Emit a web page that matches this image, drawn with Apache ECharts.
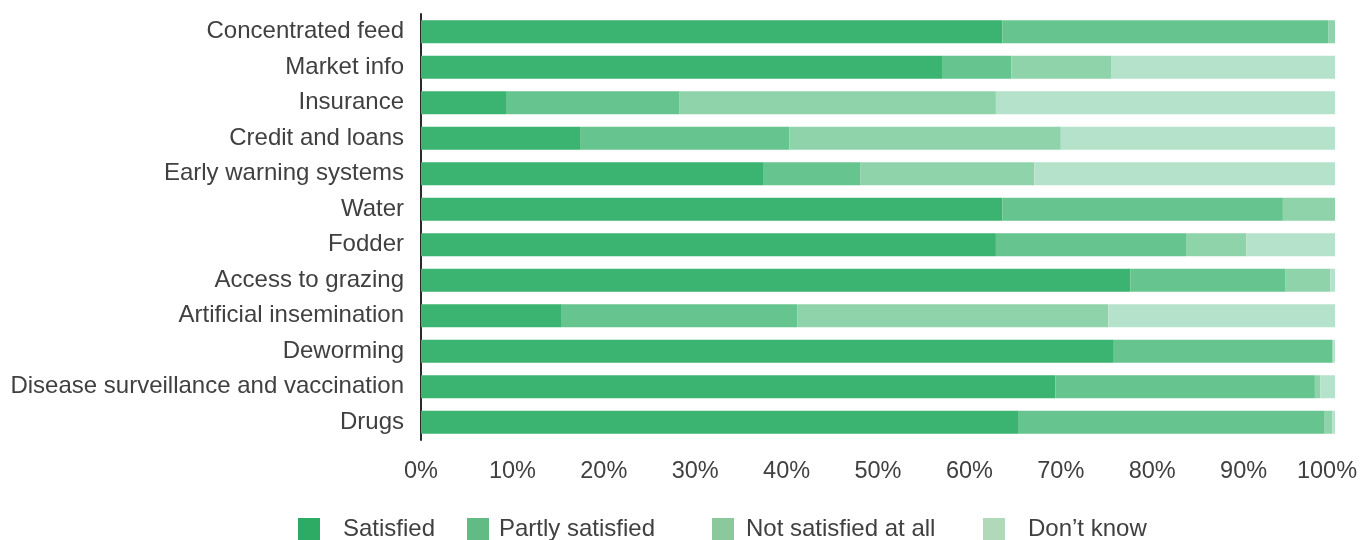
<!DOCTYPE html>
<html>
<head>
<meta charset="utf-8">
<script src="https://cdn.jsdelivr.net/npm/echarts@6/dist/echarts.min.js"></script>
<style>
html,body{margin:0;padding:0;background:#fff;}
#chart{width:1362px;height:540px;}
</style>
</head>
<body>
<div id="chart"></div>
<script>
var categories = ["Concentrated feed","Market info","Insurance","Credit and loans","Early warning systems","Water","Fodder","Access to grazing","Artificial insemination","Deworming","Disease surveillance and vaccination","Drugs"];
var seriesNames = ["Satisfied","Partly satisfied","Not satisfied at all","Don\u2019t know"];
var satisfied    = [63.6, 57.0,  9.3, 17.4, 37.5, 63.6, 62.9, 77.6, 15.4, 75.8, 69.4, 65.4];
var partly       = [35.7,  7.6, 19.0, 22.9, 10.6, 30.7, 20.8, 17.0, 25.8, 23.9, 28.4, 33.4];
var notSatisfied = [ 0.7, 10.9, 34.6, 29.7, 19.0,  5.7,  6.6,  4.9, 34.0,  0.1,  0.6,  0.9];
var dontKnow     = [ 0.0, 24.5, 37.1, 30.0, 32.9,  0.0,  9.7,  0.5, 24.8,  0.2,  1.6,  0.3];
var xTicks = [0,10,20,30,40,50,60,70,80,90,100];

var barColors = ["#3bb371","#66c48f","#8fd3ab","#b5e2ca"];
var legendColors = ["#2dab65","#62ba85","#8bc99d","#b0d9b9"];
var values = [satisfied, partly, notSatisfied, dontKnow];

var font = "'Liberation Sans', Arial, Helvetica, sans-serif";
var chart = echarts.init(document.getElementById('chart'), null, {renderer:'canvas'});

var legendLefts = [298, 467, 712, 983];
var legendTextPad = [18, 5, 7, 18];

var legends = seriesNames.map(function(n, i){
  return {
    left: legendLefts[i],
    top: 517,
    padding: 0,
    itemWidth: 22,
    itemHeight: 22,
    icon: 'rect',
    selectedMode: false,
    data: [{name: n, itemStyle: {color: legendColors[i]}}],
    textStyle: {fontFamily: font, fontSize: 24, color: '#404040', padding: [0,0,0,legendTextPad[i]]}
  };
});

chart.setOption({
  backgroundColor: '#ffffff',
  animation: false,
  textStyle: {fontFamily: font},
  legend: legends,
  grid: {left: 421, right: 27, top: 14, bottom: 100, containLabel: false, outerBoundsMode: 'none'},
  xAxis: {
    type: 'value',
    min: xTicks[0],
    max: xTicks[xTicks.length-1],
    interval: xTicks[1]-xTicks[0],
    axisLine: {show: false},
    axisTick: {show: false},
    splitLine: {show: false},
    axisLabel: {
      formatter: function(v){ return v === 100 ? '{last|' + v + '%}' : v + '%'; },
      rich: {last: {fontFamily: font, fontSize: 23.5, color: '#404040', padding: [0,16,0,0]}},
      fontFamily: font, fontSize: 23.5, color: '#404040', margin: 20
    }
  },
  yAxis: {
    type: 'category',
    data: categories,
    inverse: true,
    axisLine: {show: true, lineStyle: {color: '#2a2a2a', width: 2}},
    axisTick: {show: false},
    axisLabel: {fontFamily: font, fontSize: 24, color: '#404040', margin: 17}
  },
  series: seriesNames.map(function(n, i){
    return {
      name: n,
      type: 'bar',
      stack: 'total',
      barWidth: 23,
      itemStyle: {color: barColors[i]},
      data: values[i]
    };
  })
});
</script>
</body>
</html>
